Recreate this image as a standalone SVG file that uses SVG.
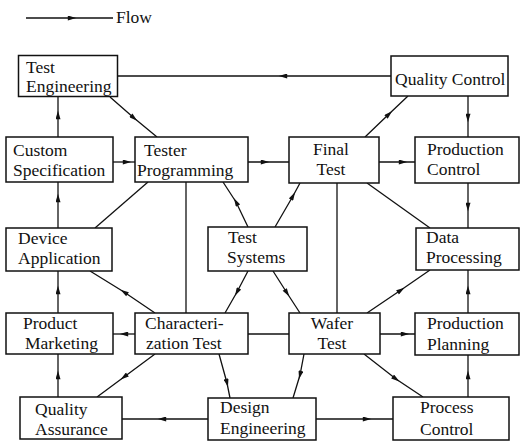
<svg xmlns="http://www.w3.org/2000/svg" width="520" height="441" viewBox="0 0 520 441">
  <style>
    .box rect { fill: #fff; stroke: #111; stroke-width: 1.5; }
    text { font-family: "Liberation Serif", "DejaVu Serif", serif; font-size: 17.5px; fill: #111; }
    .mid { text-anchor: middle; }
    #connectors path { fill: none; stroke: #111; stroke-width: 1.3; }
    #connectors path.flow { marker-mid: url(#head); }
  </style>
  <defs>
    <marker id="head" viewBox="0 0 10 6" refX="5" refY="3" markerWidth="10" markerHeight="5" markerUnits="userSpaceOnUse" orient="auto">
      <path d="M0,0 L10,3 L0,6 z" fill="#111"/>
    </marker>
  </defs>

  <rect width="520" height="441" fill="#fff"/>

  <!-- legend -->
  <g id="legend">
    <path d="M26,18 L72,18 L113,18" fill="none" stroke="#111" stroke-width="1.3" marker-mid="url(#head)"/>
    <text x="116" y="23">Flow</text>
  </g>

  <g id="connectors">
    <path class="flow" d="M391,76 L283,76 L118,76"/>
    <path class="flow" d="M58,137 L58,115 L58,97"/>
    <path class="flow" d="M110,97 L134,118 L157,137"/>
    <path class="flow" d="M113,162 L127,162 L135,162"/>
    <path class="flow" d="M248,162 L265,162 L289,162"/>
    <path class="flow" d="M379,162 L403,162 L415,162"/>
    <path class="flow" d="M468,96 L468,118 L468,137"/>
    <path class="flow" d="M365,137 L389,114 L408,96"/>
    <path class="flow" d="M468,183 L468,207 L468,228"/>
    <path d="M367,183 L430,228"/>
    <path d="M148,182 L95,228"/>
    <path class="flow" d="M58,228 L58,198 L58,182"/>
    <path class="flow" d="M248,227 L236,202 L223,182"/>
    <path class="flow" d="M275,227 L293,196 L300,183"/>
    <path d="M186,182 L186,313"/>
    <path d="M337,183 L337,313"/>
    <path class="flow" d="M248,271 L237,292 L225,313"/>
    <path class="flow" d="M273,271 L287,293 L300,313"/>
    <path class="flow" d="M155,313 L124,292 L90,271"/>
    <path class="flow" d="M58,313 L58,290 L58,271"/>
    <path class="flow" d="M135,334 L124,334 L113,334"/>
    <path d="M248,334 L289,334"/>
    <path class="flow" d="M380,334 L405,334 L415,334"/>
    <path class="flow" d="M468,313 L468,290 L468,270"/>
    <path class="flow" d="M367,313 L401,290 L430,270"/>
    <path class="flow" d="M58,397 L58,375 L58,354"/>
    <path class="flow" d="M155,354 L124,377 L97,397"/>
    <path class="flow" d="M208,419 L162,419 L122,419"/>
    <path class="flow" d="M219,354 L227,383 L230,398"/>
    <path class="flow" d="M304,354 L300,375 L293,398"/>
    <path class="flow" d="M316,419 L367,419 L393,419"/>
    <path class="flow" d="M364,354 L396,379 L423,397"/>
    <path class="flow" d="M468,397 L468,375 L468,355"/>
  </g>

  <g id="test-engineering" class="box">
    <rect x="18.5" y="55.5" width="99" height="41"/>
    <text x="26" y="73">Test</text>
    <text x="26" y="92">Engineering</text>
  </g>
  <g id="quality-control" class="box">
    <rect x="391" y="56" width="117" height="40"/>
    <text x="395" y="85">Quality Control</text>
  </g>
  <g id="custom-specification" class="box">
    <rect x="6" y="137" width="107" height="45"/>
    <text x="13" y="156">Custom</text>
    <text x="13" y="176">Specification</text>
  </g>
  <g id="tester-programming" class="box">
    <rect x="135" y="137" width="113" height="45"/>
    <text x="144" y="156">Tester</text>
    <text x="137" y="176">Programming</text>
  </g>
  <g id="final-test" class="box">
    <rect x="289" y="137" width="90" height="46"/>
    <text class="mid" x="331" y="155">Final</text>
    <text class="mid" x="331" y="175">Test</text>
  </g>
  <g id="production-control" class="box">
    <rect x="415" y="137" width="104" height="46"/>
    <text x="427" y="155">Production</text>
    <text x="427" y="175">Control</text>
  </g>
  <g id="device-application" class="box">
    <rect x="6" y="228" width="106" height="43"/>
    <text x="18" y="244">Device</text>
    <text x="18" y="264">Application</text>
  </g>
  <g id="test-systems" class="box">
    <rect x="208" y="227" width="99" height="44"/>
    <text x="228" y="243">Test</text>
    <text x="227" y="263">Systems</text>
  </g>
  <g id="data-processing" class="box">
    <rect x="416" y="228" width="103" height="42"/>
    <text x="426" y="243">Data</text>
    <text x="426" y="263">Processing</text>
  </g>
  <g id="product-marketing" class="box">
    <rect x="6" y="313" width="107" height="41"/>
    <text x="23" y="329">Product</text>
    <text x="25" y="349">Marketing</text>
  </g>
  <g id="characterization-test" class="box">
    <rect x="135" y="313" width="113" height="41"/>
    <text x="145" y="329">Characteri-</text>
    <text x="146" y="349">zation Test</text>
  </g>
  <g id="wafer-test" class="box">
    <rect x="289" y="313" width="91" height="41"/>
    <text class="mid" x="332" y="329">Wafer</text>
    <text class="mid" x="332" y="349">Test</text>
  </g>
  <g id="production-planning" class="box">
    <rect x="415" y="313" width="104" height="42"/>
    <text x="427" y="329">Production</text>
    <text x="427" y="350">Planning</text>
  </g>
  <g id="quality-assurance" class="box">
    <rect x="20" y="397" width="102" height="42"/>
    <text x="35" y="415">Quality</text>
    <text x="35" y="435">Assurance</text>
  </g>
  <g id="design-engineering" class="box">
    <rect x="208" y="398" width="108" height="42"/>
    <text x="220" y="413">Design</text>
    <text x="220" y="434">Engineering</text>
  </g>
  <g id="process-control" class="box">
    <rect x="393" y="397" width="116" height="43"/>
    <text x="420" y="413">Process</text>
    <text x="420" y="435">Control</text>
  </g>
</svg>
